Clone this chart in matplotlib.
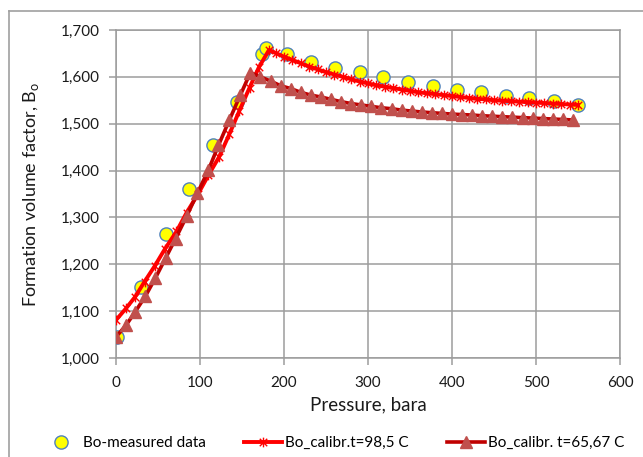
import matplotlib.pyplot as plt
from matplotlib.path import Path
from matplotlib.lines import Line2D
from matplotlib.ticker import FuncFormatter, MultipleLocator

plt.rcParams['font.family'] = ['Lato', 'DejaVu Sans']

# measured Bo
p_meas = [1, 30, 59, 87, 116, 144, 174, 178, 204, 232, 261, 290, 318,
          348, 377, 406, 435, 464, 492, 521, 550]
bo_meas = [1.045, 1.152, 1.265, 1.361, 1.454, 1.547, 1.648, 1.661, 1.648,
           1.632, 1.619, 1.610, 1.600, 1.590, 1.581, 1.573, 1.568, 1.559,
           1.555, 1.548, 1.540]

# calibrated, t = 98,5 C
p_98 = [0, 12, 23, 34, 46, 58, 72, 84, 98, 110, 123, 135, 147, 159, 170, 182,
        190, 200, 210, 220, 230, 240, 250, 260, 270, 280, 290, 300, 310, 320,
        330, 340, 350, 360, 370, 380, 390, 400, 410, 420, 430, 440, 450, 460,
        470, 480, 490, 500, 510, 520, 530, 540, 550]
bo_98 = [1.081, 1.106, 1.131, 1.163, 1.196, 1.232, 1.270, 1.310, 1.351, 1.390,
         1.430, 1.478, 1.528, 1.577, 1.620, 1.657,
         1.651, 1.643, 1.636, 1.629, 1.622, 1.616, 1.610, 1.605, 1.600, 1.595,
         1.590, 1.586, 1.582, 1.579, 1.576, 1.573, 1.570, 1.567, 1.565, 1.563,
         1.561, 1.559, 1.557, 1.555, 1.553, 1.552, 1.550, 1.549, 1.548, 1.547,
         1.546, 1.545, 1.544, 1.543, 1.542, 1.541, 1.540]

# calibrated, t = 65,67 C
p_65 = [0, 12, 23, 35, 47, 59, 71, 84, 97, 110, 122, 135, 148, 160,
        172, 184, 196, 208, 220, 232, 244, 256, 268, 280, 292, 304, 316, 328,
        340, 352, 364, 376, 388, 400, 412, 424, 436, 448, 460, 472, 484, 496,
        508, 520, 532, 544]
bo_65 = [1.045, 1.070, 1.099, 1.132, 1.171, 1.213, 1.255, 1.302, 1.352, 1.401,
         1.454, 1.508, 1.561, 1.609,
         1.600, 1.591, 1.581, 1.575, 1.567, 1.561, 1.557, 1.552, 1.547, 1.543,
         1.540, 1.537, 1.534, 1.532, 1.529, 1.527, 1.525, 1.5235, 1.522,
         1.5205, 1.5195, 1.5185, 1.517, 1.516, 1.515, 1.514, 1.513, 1.512,
         1.511, 1.510, 1.509, 1.508]

star = Path([(-1, -1), (1, 1), (-1, 1), (1, -1), (0, -1.3), (0, 1.3)],
            [Path.MOVETO, Path.LINETO, Path.MOVETO, Path.LINETO,
             Path.MOVETO, Path.LINETO])

fig = plt.figure(figsize=(6.43, 4.57), dpi=100)
ax = fig.add_axes([116 / 643, 1 - 358 / 457, 504 / 643, 328 / 457])

ax.plot(p_meas, bo_meas, linestyle='none', marker='o', markersize=9.5,
        markerfacecolor='#FFFF00', markeredgecolor='#4F81BD',
        markeredgewidth=1.0, label='Bo-measured data', zorder=3)
ax.plot(p_98, bo_98, color='#FF0000', lw=2.8, marker=star, markersize=7,
        markerfacecolor='none', markeredgecolor='#FF0000',
        markeredgewidth=1.0, label='Bo_calibr.t=98,5 C', zorder=4)
ax.plot(p_65, bo_65, color='#C00000', lw=2.6, marker='^', markersize=8.5,
        markerfacecolor='#C0504D', markeredgecolor='#C0504D',
        label='Bo_calibr. t=65,67 C', zorder=5)

ax.set_xlim(0, 600)
ax.set_ylim(1.0, 1.7)
ax.xaxis.set_major_locator(MultipleLocator(100))
ax.yaxis.set_major_locator(MultipleLocator(0.1))
ax.yaxis.set_major_formatter(FuncFormatter(lambda v, _: f'{v:.3f}'.replace('.', ',')))

ax.grid(True, color='#9c9c9c', lw=1.1)
ax.set_axisbelow(True)
for s in ax.spines.values():
    s.set_color('#9c9c9c')
    s.set_linewidth(1.1)
ax.tick_params(direction='out', length=5, width=1.1, color='#9c9c9c',
               labelsize=11, labelcolor='#1a1a1a')
ax.tick_params(axis='x', pad=8)
ax.tick_params(axis='y', pad=7)

ax.set_xlabel('Pressure, bara', fontsize=13.5, color='#1a1a1a')
ax.xaxis.set_label_coords(0.5, -0.118)
ax.set_ylabel('Formation volume factor, B$_\\mathregular{o}$', fontsize=13,
              color='#1a1a1a')
ax.yaxis.set_label_coords(-0.149, 0.5)

fig.legend(loc='center left', bbox_to_anchor=(28 / 643, 1 - 443 / 457),
           ncol=3, frameon=False, fontsize=11, handlelength=2.5,
           handletextpad=0.2, columnspacing=2.5)

# outer chart border (partly cropped)
fig.add_artist(Line2D([9 / 643, 1], [1 - 11 / 457] * 2, color='#a0a0a0', lw=1.2))
fig.add_artist(Line2D([9 / 643] * 2, [0, 1 - 11 / 457], color='#a0a0a0', lw=1.2))

fig.savefig('out.png', dpi=100)
